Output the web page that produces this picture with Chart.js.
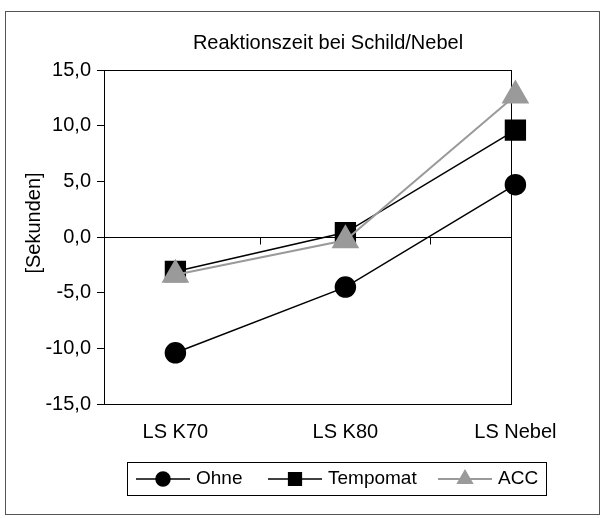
<!DOCTYPE html>
<html>
<head>
<meta charset="utf-8">
<script src="https://cdn.jsdelivr.net/npm/chart.js@4/dist/chart.umd.min.js"></script>
<style>
  body { margin: 0; background: #fff; }
  #rahmen { position: absolute; left: 5px; top: 11px; width: 593px; height: 502px; border: 1px solid #555; }
  #wrap { position: absolute; left: 0; top: 0; width: 604px; height: 518px; }
</style>
</head>
<body>
<div id="rahmen"></div>
<div id="wrap"><canvas id="grafik"></canvas></div>
<script>
// Reaktionszeit je Situation und Fahrmodus (Sekunden)
var kategorien = ['LS K70', 'LS K80', 'LS Nebel'];
var ohne = [-10.4, -4.5, 4.7];
var tempomat = [-3.1, 0.4, 9.6];
var acc = [-3.4, -0.3, 12.7];
var yTicks = [-15, -10, -5, 0, 5, 10, 15];

var schrift = 'Arial, "Liberation Sans", sans-serif';
var grau = '#9a9a9a';

function punkte(werte) {
    var res = [];
    for (var i = 0; i < werte.length; i++) {
        res.push({ x: i, y: werte[i] });
    }
    return res;
}

function formatZahl(v) {
    return v.toFixed(1).replace('.', ',');
}

// Rahmen, Nulllinie, Titel, Kategorien und Legende
var extras = {
    id: 'extras',
    beforeDatasetsDraw: function(chart) {
        var ctx = chart.ctx;
        var a = chart.chartArea;
        var sx = chart.scales.x;
        var sy = chart.scales.y;
        ctx.save();
        ctx.strokeStyle = '#000';
        ctx.lineWidth = 1;
        ctx.strokeRect(a.left + 0.5, a.top + 0.5, a.right - a.left - 1, a.bottom - a.top);
        var y0 = Math.round(sy.getPixelForValue(0)) + 0.5;
        ctx.beginPath();
        ctx.moveTo(a.left, y0);
        ctx.lineTo(a.right, y0);
        for (var i = 0; i < kategorien.length - 1; i++) {
            var tx = Math.round(sx.getPixelForValue(i + 0.5)) + 0.5;
            ctx.moveTo(tx, y0);
            ctx.lineTo(tx, y0 + 7);
        }
        ctx.stroke();
        ctx.restore();
    },
    afterDraw: function(chart) {
        var ctx = chart.ctx;
        var sx = chart.scales.x;
        ctx.save();
        ctx.fillStyle = '#000';
        ctx.textBaseline = 'middle';
        ctx.textAlign = 'center';

        ctx.font = '20px ' + schrift;
        ctx.fillText('Reaktionszeit bei Schild/Nebel', 328, 43);

        for (var i = 0; i < kategorien.length; i++) {
            ctx.fillText(kategorien[i], sx.getPixelForValue(i), 432);
        }

        ctx.save();
        ctx.translate(34, 223);
        ctx.rotate(-Math.PI / 2);
        ctx.fillText('[Sekunden]', 0, 0);
        ctx.restore();

        // Legende
        ctx.strokeStyle = '#000';
        ctx.lineWidth = 1;
        ctx.strokeRect(127.5, 462.5, 419, 33);
        var eintraege = chart.data.datasets;
        var lx = [136, 268, 438];
        var ly = 479;
        for (var j = 0; j < eintraege.length; j++) {
            var ds = eintraege[j];
            ctx.strokeStyle = ds.borderColor;
            ctx.lineWidth = ds.borderWidth;
            ctx.beginPath();
            ctx.moveTo(lx[j], ly);
            ctx.lineTo(lx[j] + 54, ly);
            ctx.stroke();
            ctx.fillStyle = ds.pointBackgroundColor;
            ctx.strokeStyle = ds.pointBorderColor;
            Chart.helpers.drawPoint(ctx, {
                pointStyle: ds.pointStyle,
                radius: ds.legendRadius,
                borderWidth: 1,
                rotation: 0
            }, lx[j] + 27, ly);
            ctx.fillStyle = '#000';
            ctx.textAlign = 'left';
            ctx.font = '19px ' + schrift;
            ctx.fillText(ds.label, lx[j] + 60, ly);
        }
        ctx.restore();
    }
};

new Chart(document.getElementById('grafik'), {
    type: 'line',
    data: {
        datasets: [{
            label: 'Ohne',
            data: punkte(ohne),
            order: 2,
            borderColor: '#000',
            borderWidth: 1.5,
            pointStyle: 'circle',
            pointRadius: 10,
            legendRadius: 7,
            pointBackgroundColor: '#000',
            pointBorderColor: '#000',
            clip: false
        }, {
            label: 'Tempomat',
            data: punkte(tempomat),
            order: 1,
            borderColor: '#000',
            borderWidth: 1.5,
            pointStyle: 'rect',
            pointRadius: 14,
            legendRadius: 9,
            pointBackgroundColor: '#000',
            pointBorderColor: '#000',
            clip: false
        }, {
            label: 'ACC',
            data: punkte(acc),
            order: 0,
            borderColor: grau,
            borderWidth: 2,
            pointStyle: 'triangle',
            pointRadius: 14,
            legendRadius: 8,
            pointBackgroundColor: grau,
            pointBorderColor: grau,
            clip: false
        }]
    },
    options: {
        responsive: true,
        maintainAspectRatio: false,
        animation: false,
        layout: { padding: { left: 0, top: 70, right: 92, bottom: 114 } },
        plugins: {
            legend: { display: false },
            title: { display: false },
            tooltip: { enabled: false }
        },
        scales: {
            x: {
                type: 'linear',
                min: -0.42,
                max: 1.98,
                display: false
            },
            y: {
                min: -15,
                max: 15,
                afterBuildTicks: function(scale) {
                    scale.ticks = yTicks.map(function(v) { return { value: v }; });
                },
                afterFit: function(scale) {
                    scale.width = 104;
                },
                ticks: {
                    color: '#000',
                    padding: 6,
                    font: { family: schrift, size: 20 },
                    callback: function(v) { return formatZahl(v); }
                },
                grid: {
                    drawOnChartArea: false,
                    color: '#000',
                    tickLength: 7
                },
                border: { color: '#000', width: 1 }
            }
        }
    },
    plugins: [extras]
});
</script>
</body>
</html>
